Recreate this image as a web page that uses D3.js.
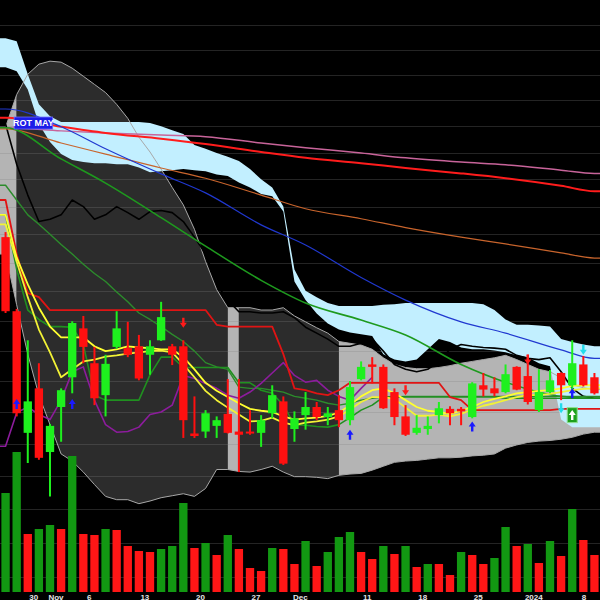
<!DOCTYPE html>
<html><head><meta charset="utf-8">
<script src="https://cdn.jsdelivr.net/npm/d3@7"></script>
<style>html,body{margin:0;padding:0;background:#000;} svg{display:block;}</style>
</head><body>
<svg id="chart" width="600" height="600"></svg>
<script>
// ---------- DATA ----------
const tickIdx = [2,4,7,12,17,22,26,32,37,42,47,52];
const tickLabels = ["30","Nov","6","13","20","27","Dec","11","18","25","2024","8"];
const gridPrices = [32,31.5,31,30.5,30,29.5,29,28.5,28,27.5,27,26.5,26,25.5,25,24.5,24,23.5,23,22.5];

const open  = [27.95,26.66,24.67,25.38,24.37,25.08,25.56,26.37,25.79,25.27,26.06,26.04,26.07,25.93,26.17,26.07,26.07,24.66,24.69,24.78,24.97,24.69,24.69,24.67,24.98,25.17,24.73,24.95,25.08,24.92,25.03,24.87,25.53,25.77,25.73,25.32,24.93,24.67,24.73,24.95,25.05,25.05,24.92,25.43,25.38,25.32,25.73,25.58,25.03,25.32,25.63,25.43,25.77,25.56];
const high  = [28.04,26.70,26.17,25.79,24.81,25.38,26.49,26.58,26.06,25.93,26.66,26.48,26.26,26.17,26.82,26.11,26.17,25.25,25.03,24.93,25.53,25.53,25.03,24.95,25.43,25.25,25.01,25.32,25.16,25.08,25.27,25.50,25.82,25.89,25.77,25.38,25.11,24.95,24.93,25.16,25.09,25.08,25.48,25.63,25.56,25.77,25.74,25.93,25.69,25.68,25.64,26.17,25.91,25.63];
const low   = [26.63,24.93,24.20,24.25,23.69,24.53,25.30,25.79,25.11,24.93,26.03,25.89,25.51,25.60,26.16,25.76,24.59,24.59,24.59,24.59,24.66,24.06,24.64,24.45,24.90,24.17,24.53,24.72,24.87,24.79,24.76,24.79,25.51,25.46,25.05,24.79,24.62,24.64,24.64,24.82,24.79,24.79,24.90,25.25,25.25,25.30,25.35,25.12,25.00,25.30,25.19,25.32,25.41,25.28];
const close = [26.66,24.98,25.17,24.28,24.78,25.35,26.46,26.06,25.22,25.78,26.37,25.93,25.54,26.07,26.56,25.93,24.87,24.62,24.98,24.87,24.67,24.64,24.66,24.87,25.27,24.19,24.90,25.08,24.92,24.98,24.87,25.40,25.73,25.73,25.06,24.92,24.64,24.75,24.78,25.06,24.98,25.01,25.46,25.36,25.30,25.61,25.36,25.16,25.32,25.51,25.43,25.79,25.43,25.30];

const volume = [9.9,14.0,5.8,6.3,6.7,6.3,13.6,5.8,5.7,6.3,6.2,4.6,4.1,4.0,4.3,4.6,8.9,4.4,4.9,3.7,5.7,4.3,2.4,2.1,4.4,4.3,2.8,5.1,2.6,4.0,5.5,6.0,4.0,3.3,4.6,3.8,4.6,2.5,2.8,2.8,1.7,4.0,3.7,2.8,3.4,6.5,4.6,4.8,2.9,5.1,3.6,8.3,5.2,3.7];
const volDir = "ggrggrgrrgrrrrgggrgrgrrrgrrgrgggrrgrgrgrrgrrggrgrgrgrr".split("");

const cloudA = [31.73,31.67,31.01,30.42,30.19,30.08,30.08,30.08,30.08,30.08,30.08,30.08,30.08,30.06,30.00,29.92,29.85,29.64,29.57,29.49,29.42,29.34,29.19,29.00,28.85,28.50,27.38,27.01,26.90,26.80,26.75,26.75,26.75,26.75,26.77,26.78,26.80,26.80,26.80,26.80,26.80,26.80,26.80,26.78,26.68,26.52,26.43,26.43,26.42,26.40,26.19,26.14,26.10,26.07];
const cloudB = [31.15,31.07,30.71,30.04,29.70,29.47,29.36,29.32,29.30,29.30,29.28,29.28,29.22,29.13,29.15,29.17,29.19,29.17,29.15,29.09,29.06,28.94,28.85,28.73,28.69,28.41,27.17,26.85,26.62,26.45,26.35,26.30,26.27,26.24,25.94,25.85,25.82,25.85,26.02,26.19,26.14,26.05,26.02,26.02,26.00,25.97,25.92,25.89,25.79,25.74,24.88,24.76,24.76,24.76];

const bandUp = [29.98,30.61,31.01,31.21,31.27,31.25,31.13,30.97,30.81,30.65,30.42,30.15,29.79,29.51,29.19,28.85,28.53,28.09,27.52,27.03,26.72,26.72,26.72,26.68,26.68,26.72,26.58,26.48,26.38,26.29,26.15,26.12,26.09,26.02,25.88,25.77,25.72,25.70,25.70,25.72,25.75,25.79,25.82,25.85,25.88,25.92,25.85,25.77,25.69,25.65,25.55,25.44,25.39,25.36];
const bandLo = [27.65,26.77,25.94,25.27,24.80,24.34,24.23,24.06,23.87,23.69,23.64,23.64,23.58,23.62,23.67,23.70,23.73,23.69,23.81,24.10,24.10,24.07,24.06,24.10,24.15,24.06,23.99,23.99,23.98,23.96,24.01,24.03,24.04,24.09,24.15,24.21,24.23,24.24,24.26,24.28,24.28,24.29,24.31,24.32,24.34,24.43,24.48,24.52,24.54,24.55,24.57,24.60,24.65,24.68];
const bandState = ("LL" + "D".repeat(19) + "L" + "D".repeat(9) + "L".repeat(23)).split("");

const blackLn = [30.04,29.28,28.71,28.23,28.27,28.35,28.62,28.50,28.27,28.35,28.50,28.39,28.27,28.41,28.43,28.39,28.23,27.95,27.65,27.12,26.85,26.65,26.65,26.63,26.63,26.65,26.55,26.39,26.29,26.19,26.07,26.07,26.12,26.19,25.99,25.77,25.69,25.65,25.69,25.82,26.02,26.10,26.07,26.05,26.04,26.02,25.92,25.87,25.85,25.88,25.65,25.38,25.25,25.22];
const yellowA = [28.35,27.59,27.12,26.72,26.40,26.22,26.22,26.22,26.07,25.99,26.02,26.07,26.05,26.04,26.02,26.02,25.89,25.69,25.47,25.34,25.24,25.14,25.05,25.02,25.00,24.93,24.88,24.90,24.91,24.94,24.99,25.11,25.25,25.35,25.38,25.30,25.19,25.08,25.02,25.00,24.97,25.02,25.08,25.16,25.21,25.25,25.30,25.32,25.34,25.35,25.38,25.42,25.43,25.43];
const yellowB = [28.18,27.52,26.90,26.35,25.97,25.56,25.69,25.82,25.85,25.90,25.92,25.95,25.97,25.99,26.00,25.97,25.77,25.56,25.34,25.19,25.07,24.96,24.85,24.86,24.91,24.83,24.79,24.83,24.85,24.88,24.93,25.04,25.16,25.24,25.24,25.21,25.07,24.94,24.94,24.96,24.93,24.97,25.04,25.10,25.14,25.19,25.24,25.27,25.27,25.29,25.32,25.35,25.37,25.38];
const redStep = [28.62,27.65,26.97,26.90,26.68,26.68,26.68,26.68,26.68,26.68,26.68,26.68,26.68,26.68,26.68,26.68,26.68,26.68,26.68,26.43,26.40,26.40,26.40,26.40,26.40,25.94,25.38,25.35,25.30,25.27,25.35,25.47,25.47,25.47,25.47,25.47,25.47,25.47,25.47,25.47,25.24,25.19,25.03,25.03,25.03,25.03,25.03,25.03,25.03,25.03,25.05,25.05,25.05,25.05];
const purpleLn = [24.46,24.99,25.08,24.96,24.88,25.19,25.65,25.73,25.19,24.80,24.68,24.69,24.76,24.96,25.00,25.11,25.59,25.54,25.46,25.38,25.27,25.22,25.32,25.46,25.63,25.80,25.59,25.48,25.51,25.35,25.25,25.19,25.38,25.56];
const greenMid = [28.89,28.62,28.35,28.18,28.00,27.82,27.65,27.47,27.31,27.17,26.99,26.82,26.63,26.52,26.40,26.27,26.15,25.99,25.80,25.73,25.69,25.40,25.38,25.38,25.35,25.32,25.25,25.22,25.19,25.14,25.11,25.14,25.19,25.22,25.24,25.24,25.25,25.25,25.25,25.25,25.25,25.25,25.25,25.25,25.25,25.25,25.25,25.25,25.25,25.25,25.25,25.25,25.25,25.25];
const greenStep = [28.35,27.38,26.68,26.52,26.40,26.40,26.39,26.10,25.27,25.19,25.19,25.19,25.19,25.60,25.89,25.89,25.72,25.72,25.72,25.72,25.72,25.47,25.47,25.35,25.30,25.11,24.80,24.79,24.77,24.76,24.80,24.91,25.03,25.11,25.24,25.24,25.24,25.24,25.24,25.24,25.24,25.24,25.24,25.24,25.24,25.22,25.22,25.22,25.22,25.22,25.22,25.22,25.22,25.22];

const maIdx    = [0,5,9,14,18,23,27,32,36,41,45,50,53];
const pinkMA   = [29.97,29.91,29.87,29.83,29.80,29.68,29.59,29.49,29.40,29.32,29.27,29.17,29.11];
const redMA    = [30.16,29.99,29.87,29.76,29.66,29.51,29.40,29.30,29.21,29.11,29.02,28.88,28.78];
const orangeMA = [29.95,29.68,29.47,29.21,29.02,28.71,28.46,28.28,28.12,27.95,27.83,27.67,27.58];
const blueMA   = [30.33,29.99,29.57,29.10,28.75,28.17,27.81,27.24,26.85,26.48,26.29,26.01,25.87];
const greenMA  = [29.97,29.38,28.93,28.30,27.79,27.19,26.80,26.51,26.26,25.77,25.48,25.25,25.22];

const upArrowIdx = [1,6,31,42,51];
const upArrowPx  = [25.21,25.21,24.72,24.85,25.38];
const dnArrowIdx = [16,36,47];
const dnArrowPx  = [26.38,25.27,25.77];
const cyanArrowIdx = [50,52];
const cyanArrowPx  = [24.98,25.93];
const buyIdx = [51];
const buyPx  = [25.07];
const labelText = "ROT MAY";
const labelIdx = 1;
const labelPx = 30.06;

// ---------- SCALES ----------
const W = 600, H = 600;
const n = close.length;
const svg = d3.select("#chart");
const x = d3.scaleBand().domain(d3.range(n)).range([0, W]).paddingInner(0.25).paddingOuter(0.125);
const cx = i => x(i) + x.bandwidth() / 2;
const y = d3.scaleLog().domain([32.514, 22.175]).range([0, H]);
const yv = d3.scaleLinear().domain([0, 14]).range([592, 452]);

svg.append("rect").attr("width", W).attr("height", H).attr("fill", "#000");

const xsExt = [0, ...d3.range(n).map(cx), W];
const ext = a => [a[0], ...a, a[a.length - 1]];

// ---------- BAND (state-coloured) ----------
const topE = ext(bandUp), botE = ext(bandLo);
const segState = k => k === 0 ? bandState[0] : (k >= n ? bandState[n - 1] : bandState[k]);
const runs = []; let cur = null;
for (let k = 0; k <= n; k++) {
  const s = segState(k);
  if (!cur || cur.s !== s) { cur = { s, from: k, to: k + 1 }; runs.push(cur); } else cur.to = k + 1;
}
const bandArea = d3.area().x(k => xsExt[k]).y0(k => y(topE[k])).y1(k => y(botE[k]));
runs.forEach(r => {
  svg.append("path").attr("d", bandArea(d3.range(r.from, r.to + 1)))
    .attr("fill", r.s === "D" ? "#2c2c2c" : "#b4b4b4");
});

// ---------- GRID ----------
svg.append("g").selectAll("line").data(gridPrices).join("line")
  .attr("x1", 0).attr("x2", W).attr("y1", d => Math.round(y(d)) + 0.5).attr("y2", d => Math.round(y(d)) + 0.5)
  .attr("stroke", "rgba(128,128,128,0.28)").attr("stroke-width", 1);

// ---------- CLOUD ----------
const cA = ext(cloudA), cB = ext(cloudB);
svg.append("path")
  .attr("d", d3.area().x(k => xsExt[k]).y0(k => y(cA[k])).y1(k => y(cB[k]))(d3.range(n + 2)))
  .attr("fill", "#c2efff");

// band outline
const lineK = (arr) => d3.line().x(k => xsExt[k]).y(k => y(arr[k]))(d3.range(n + 2));
svg.append("path").attr("d", lineK(topE)).attr("fill", "none").attr("stroke", "#a8a8a8").attr("stroke-width", 1);
svg.append("path").attr("d", lineK(botE)).attr("fill", "none").attr("stroke", "#a8a8a8").attr("stroke-width", 1);

// ---------- LINES ----------
function drawSeries(vals, color, w, extend = true) {
  let pts = vals.map((v, k) => [cx(k), y(v)]);
  if (extend) { pts = [[0, pts[0][1]], ...pts, [W, pts[pts.length - 1][1]]]; }
  else { pts = [[0, pts[0][1]], ...pts]; }
  svg.append("path").attr("d", d3.line()(pts)).attr("fill", "none")
    .attr("stroke", color).attr("stroke-width", w).attr("stroke-linejoin", "round");
}
function drawMA(vals, color, w) {
  let pts = maIdx.map((i, k) => [cx(i), y(vals[k])]);
  pts = [[0, pts[0][1]], ...pts, [W, pts[pts.length - 1][1]]];
  svg.append("path").attr("d", d3.line().curve(d3.curveMonotoneX)(pts)).attr("fill", "none")
    .attr("stroke", color).attr("stroke-width", w);
}
drawSeries(blackLn, "#000", 1.6);
drawMA(pinkMA, "#c8649a", 1.5);
drawMA(redMA, "#ff1c1c", 2);
drawMA(orangeMA, "#c8642c", 1.2);
drawMA(blueMA, "#2038d0", 1.2);
drawMA(greenMA, "#1e9a1e", 1.6);
drawSeries(greenMid, "#2c8c2c", 1.4);
drawSeries(greenStep, "#209020", 1.6);
drawSeries(purpleLn, "#8c1c9c", 1.6, false);
drawSeries(redStep, "#e01414", 1.8);
drawSeries(yellowB, "#f2f236", 1.8);
drawSeries(yellowA, "#ffff30", 1.8);

// ---------- CANDLES ----------
const upC = "#1ef01e", dnC = "#ff1010";
const cg = svg.append("g");
d3.range(n).forEach(i => {
  const col = close[i] >= open[i] ? upC : dnC;
  cg.append("line").attr("x1", cx(i)).attr("x2", cx(i)).attr("y1", y(high[i])).attr("y2", y(low[i]))
    .attr("stroke", col).attr("stroke-width", 2);
  const t = y(Math.max(open[i], close[i])), b = y(Math.min(open[i], close[i]));
  cg.append("rect").attr("x", x(i)).attr("width", x.bandwidth())
    .attr("y", t).attr("height", Math.max(2, b - t)).attr("fill", col);
});

// ---------- ARROWS ----------
function upArrow(px, tipY) {
  return `M${px},${tipY} L${px + 3.5},${tipY + 5} L${px + 1.2},${tipY + 5} L${px + 1.2},${tipY + 10} L${px - 1.2},${tipY + 10} L${px - 1.2},${tipY + 5} L${px - 3.5},${tipY + 5} Z`;
}
function dnArrow(px, tipY) {
  return `M${px},${tipY} L${px + 3.5},${tipY - 5} L${px + 1.2},${tipY - 5} L${px + 1.2},${tipY - 10} L${px - 1.2},${tipY - 10} L${px - 1.2},${tipY - 5} L${px - 3.5},${tipY - 5} Z`;
}
upArrowIdx.forEach((i, k) => svg.append("path").attr("d", upArrow(cx(i), y(upArrowPx[k]))).attr("fill", "#1a1aff"));
dnArrowIdx.forEach((i, k) => svg.append("path").attr("d", dnArrow(cx(i), y(dnArrowPx[k]))).attr("fill", "#ff1a1a"));
cyanArrowIdx.forEach((i, k) => svg.append("path").attr("d", dnArrow(cx(i), y(cyanArrowPx[k]))).attr("fill", "#22dcec"));
buyIdx.forEach((i, k) => {
  const top = y(buyPx[k]);
  svg.append("rect").attr("x", cx(i) - 5).attr("y", top).attr("width", 10).attr("height", 15)
    .attr("fill", "#1ca01c").attr("stroke", "#8fe08f").attr("stroke-width", 1);
  svg.append("path").attr("d", upArrow(cx(i), top + 2.5)).attr("fill", "#fff");
});

// ---------- VOLUME ----------
svg.append("g").selectAll("rect").data(volume).join("rect")
  .attr("x", (d, i) => x(i)).attr("width", x.bandwidth())
  .attr("y", d => yv(d)).attr("height", d => yv(0) - yv(d))
  .attr("fill", (d, i) => volDir[i] === "g" ? "#129812" : "#ff1616");

// ---------- LABEL ----------
const lx = cx(labelIdx) - 2.5, ly = y(labelPx);
svg.append("rect").attr("x", lx).attr("y", ly - 6).attr("width", 38.5).attr("height", 12)
  .attr("fill", "#1c1ce8").attr("stroke", "#6c6cff").attr("stroke-width", 0.8);
svg.append("text").attr("x", lx + 19.25).attr("y", ly + 3.3).attr("text-anchor", "middle")
  .attr("font-family", "Liberation Sans, Arial, sans-serif").attr("font-size", 9).attr("font-weight", "bold")
  .attr("fill", "#fff").text(labelText);

// ---------- X AXIS LABELS ----------
svg.append("g").selectAll("text").data(tickIdx).join("text")
  .attr("x", i => Math.min(cx(i) + 6, 584)).attr("y", 599.5).attr("text-anchor", "middle")
  .attr("font-family", "Liberation Sans, Arial, sans-serif").attr("font-size", 8).attr("font-weight", "bold")
  .attr("fill", "#e6e6e6").text((d, k) => tickLabels[k]);
</script>
</body></html>
